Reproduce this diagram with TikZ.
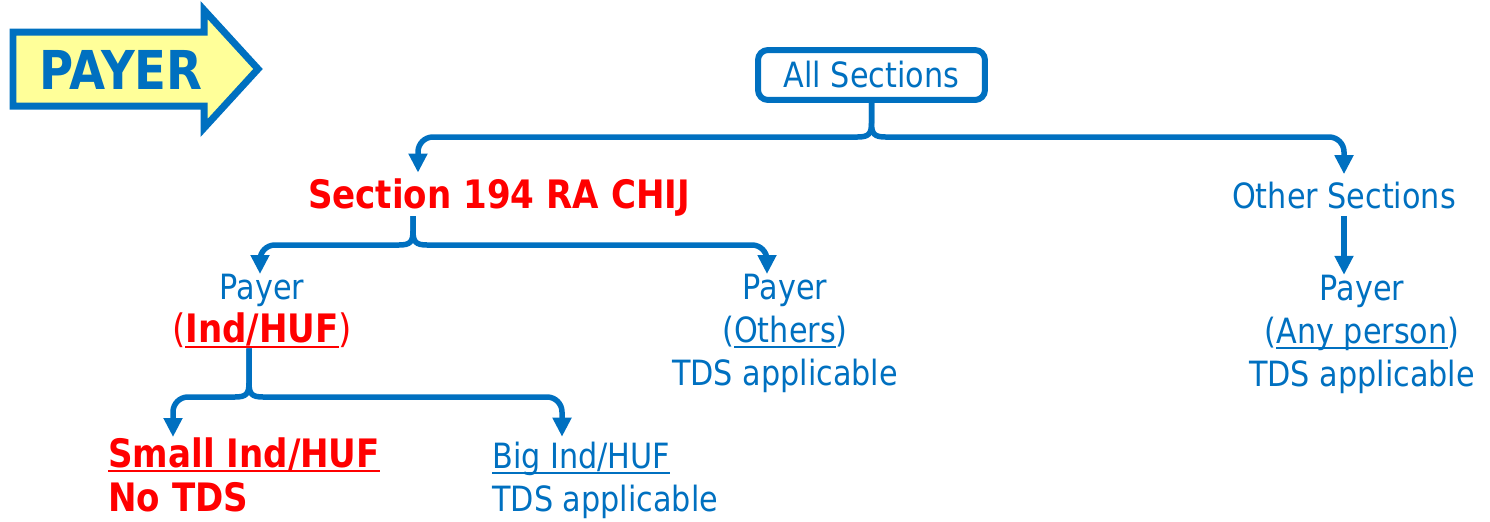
\documentclass[tikz,border=0pt]{standalone}
\usepackage{fontspec}
\setmainfont{DejaVu Sans}[FakeStretch=0.87]
\usepackage{tikz}
\usetikzlibrary{positioning,calc,arrows.meta}

\definecolor{sblue}{HTML}{0070C0}
\definecolor{sred}{HTML}{FF0000}
\definecolor{pyellow}{HTML}{FFFF99}

\newlength{\ulwd}
\newcommand{\uln}[1]{\settowidth{\ulwd}{#1}\rlap{\rule[-3pt]{\ulwd}{1.3pt}}#1}

\begin{document}
\begin{tikzpicture}[x=0.02cm, y=-0.02cm,
    link/.style={draw=sblue, line width=0.11cm, -{Triangle[length=0.38cm,width=0.36cm]}},
    txt/.style={inner sep=0pt, text=sblue, font=\fontsize{19.8}{24.5}\selectfont},
    redtxt/.style={inner sep=0pt, text=sred, font=\fontsize{22.3}{25.5}\selectfont\bfseries},
    secbox/.style={draw=sblue, line width=0.12cm, rounded corners=0.2cm, minimum width=4.54cm, minimum height=1.0cm}]
   \useasboundingbox (0,0) rectangle (1490,521);

   % payer arrow
   \draw[draw=sblue, fill=pyellow, line width=0.14cm, miter limit=10]
     (13,32) -- (204,32) -- (204,10) -- (258,69) -- (204,128) -- (204,106) -- (13,106) -- cycle;
   \node[inner sep=0pt, text=sblue, font=\fontsize{30.5}{32}\selectfont\bfseries] (payer) at (121,70) {PAYER};

   \node[secbox, txt] (allsec) at (871.5,75) {All Sections};
   \node[redtxt, anchor=base] (secchij) at (499,208) {Section 194 RA CHIJ};
   \node[txt, anchor=base] (othsec) at (1344,208) {Other Sections};
   \node[txt, anchor=north, align=center] (payind) at (262,274)
     {Payer\\{\color{sred}\fontsize{22.3}{24.5}\selectfont(\textbf{\uln{Ind/HUF}})}};
   \node[txt, anchor=north, align=center] (payoth) at (785,274) {Payer\\(\uln{Others})\\TDS applicable};
   \node[txt, align=center, below=1.32cm of othsec, xshift=0.36cm] (payany) {Payer\\(\uln{Any person})\\TDS applicable};
   \node[redtxt, anchor=north west, align=left] (smallind) at (108,437) {\uln{Small Ind/HUF}\\No TDS};
   \node[txt, anchor=north west, align=left] (bigind) at (492,442) {\uln{Big Ind/HUF}\\TDS applicable};

   \coordinate (fork1) at (allsec.south |- 0,137);
   \coordinate (fork2) at (413,245);
   \coordinate (fork3) at (249,397);

   % all sections
   \draw[link, shorten >=3pt] (allsec.south) -- ($(fork1)+(0,-14)$)
     .. controls ($(fork1)+(0,-3)$) and ($(fork1)+(-3,0)$) .. ($(fork1)+(-14,0)$)
     [rounded corners=0.3cm] -- (fork1 -| 418,0) -- (secchij.north -| 418,0);
   \draw[link, shorten >=4pt] (allsec.south) -- ($(fork1)+(0,-14)$)
     .. controls ($(fork1)+(0,-3)$) and ($(fork1)+(3,0)$) .. ($(fork1)+(14,0)$)
     [rounded corners=0.3cm] -- (fork1 -| othsec) -- (othsec.north);

   % section 194 RA CHIJ
   \draw[link] (secchij.south -| fork2) -- ($(fork2)+(0,-14)$)
     .. controls ($(fork2)+(0,-3)$) and ($(fork2)+(-3,0)$) .. ($(fork2)+(-14,0)$)
     [rounded corners=0.3cm] -- (fork2 -| 260,0) -- (payind.north -| 260,0);
   \draw[link] (secchij.south -| fork2) -- ($(fork2)+(0,-14)$)
     .. controls ($(fork2)+(0,-3)$) and ($(fork2)+(3,0)$) .. ($(fork2)+(14,0)$)
     [rounded corners=0.3cm] -- (fork2 -| 767,0) -- (payoth.north -| 767,0);

   % other sections
   \draw[link, shorten <=4pt] (othsec.south) -- (othsec.south |- payany.north);

   % payer ind/huf
   \draw[link] (payind.south -| fork3) -- ($(fork3)+(0,-14)$)
     .. controls ($(fork3)+(0,-3)$) and ($(fork3)+(-3,0)$) .. ($(fork3)+(-14,0)$)
     [rounded corners=0.3cm] -- (fork3 -| 173,0) -- (smallind.north -| 173,0);
   \draw[link, shorten >=3pt] (payind.south -| fork3) -- ($(fork3)+(0,-14)$)
     .. controls ($(fork3)+(0,-3)$) and ($(fork3)+(3,0)$) .. ($(fork3)+(14,0)$)
     [rounded corners=0.3cm] -- (fork3 -| 562,0) -- (bigind.north -| 562,0);
\end{tikzpicture}
\end{document}
